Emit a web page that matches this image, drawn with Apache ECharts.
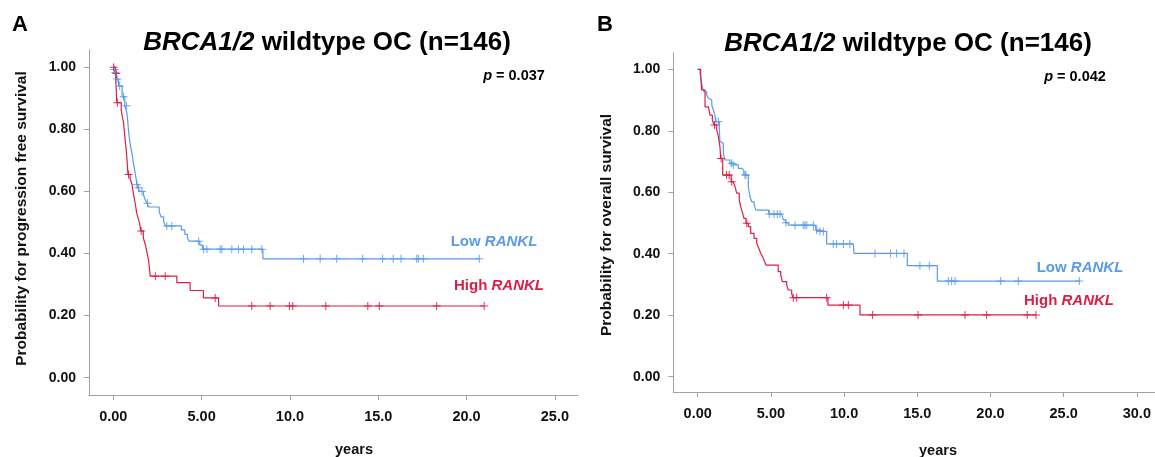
<!DOCTYPE html>
<html>
<head>
<meta charset="utf-8">
<script src="https://cdn.jsdelivr.net/npm/echarts@6/dist/echarts.min.js"></script>
<style>html,body{margin:0;padding:0;background:#fff}#c{width:1155px;height:457px}</style>
</head>
<body>
<div id="c"></div>
<script>
// ---------- DATA ----------
const yTickValues = [0, 0.2, 0.4, 0.6, 0.8, 1.0];
const yTickLabels = ['0.00', '0.20', '0.40', '0.60', '0.80', '1.00'];
const xTickValuesA = [0, 5, 10, 15, 20, 25];
const xTickLabelsA = ['0.00', '5.00', '10.0', '15.0', '20.0', '25.0'];
const xTickValuesB = [0, 5, 10, 15, 20, 25, 30];
const xTickLabelsB = ['0.00', '5.00', '10.0', '15.0', '20.0', '25.0', '30.0'];

// Panel A: progression free survival, [years, probability]
const lowPFS = [[0,1],[0.04,0.993],[0.1,0.983],[0.18,0.962],[0.3,0.94],[0.5,0.905],[0.65,0.876],[0.76,0.855],[0.8,0.838],[0.84,0.81],[0.88,0.785],[0.93,0.765],[0.97,0.748],[1.02,0.733],[1.07,0.718],[1.11,0.703],[1.15,0.688],[1.2,0.672],[1.25,0.655],[1.3,0.638],[1.33,0.622],[1.4,0.612],[1.5,0.6],[1.7,0.59],[1.8,0.575],[1.9,0.562],[2.0,0.55],[2.6,0.535],[2.7,0.518],[2.85,0.503],[2.95,0.489],[3.85,0.476],[4.05,0.462],[4.2,0.45],[4.28,0.44],[4.9,0.427],[5.05,0.414],[8.47,0.383],[20.72,0.383]];
const lowPFSCensored = [[0.06,0.993],[0.12,0.983],[0.22,0.962],[0.36,0.94],[0.58,0.905],[0.74,0.876],[1.34,0.622],[1.43,0.612],[1.62,0.6],[1.94,0.562],[3.03,0.489],[3.31,0.489],[4.83,0.44],[5.11,0.414],[5.3,0.414],[6.05,0.414],[6.15,0.414],[6.71,0.414],[7.09,0.414],[7.37,0.414],[7.84,0.414],[8.41,0.414],[10.77,0.383],[11.71,0.383],[12.65,0.383],[14.12,0.383],[15.25,0.383],[15.85,0.383],[16.29,0.383],[17.18,0.383],[17.27,0.383],[17.55,0.383],[20.72,0.383]];
const highPFS = [[0,1],[0.12,0.98],[0.2,0.886],[0.45,0.862],[0.5,0.844],[0.58,0.822],[0.63,0.79],[0.68,0.76],[0.74,0.73],[0.79,0.69],[0.83,0.655],[0.95,0.64],[1.06,0.623],[1.15,0.59],[1.25,0.558],[1.34,0.526],[1.45,0.505],[1.5,0.494],[1.55,0.473],[1.7,0.45],[1.81,0.43],[1.9,0.405],[2.0,0.376],[2.05,0.35],[2.09,0.327],[3.6,0.306],[4.35,0.281],[5.1,0.257],[5.96,0.231],[21.0,0.231]];
const highPFSCensored = [[0.02,1.0],[0.17,0.98],[0.23,0.886],[0.86,0.655],[1.58,0.473],[2.38,0.327],[2.94,0.327],[5.77,0.257],[7.84,0.231],[8.88,0.231],[9.97,0.231],[10.16,0.231],[12.03,0.231],[14.41,0.231],[15.06,0.231],[18.31,0.231],[21.0,0.231]];

// Panel B: overall survival, [years, probability]
const lowOS = [[0,1],[0.16,0.987],[0.27,0.954],[0.34,0.938],[0.43,0.927],[0.61,0.916],[0.73,0.906],[0.84,0.9],[0.96,0.884],[1.07,0.868],[1.18,0.851],[1.22,0.83],[1.48,0.803],[1.52,0.765],[1.64,0.759],[1.75,0.727],[1.86,0.705],[2.2,0.694],[2.38,0.689],[2.77,0.678],[3.0,0.672],[3.15,0.656],[3.46,0.618],[3.57,0.586],[3.69,0.569],[3.85,0.559],[3.98,0.542],[4.85,0.529],[5.74,0.526],[5.85,0.51],[6.0,0.501],[6.19,0.493],[8.01,0.488],[8.1,0.477],[8.25,0.472],[8.81,0.432],[10.63,0.428],[10.68,0.401],[14.32,0.361],[16.37,0.311],[26.07,0.311]];
const lowOSCensored = [[1.25,0.83],[1.41,0.83],[2.32,0.694],[2.43,0.689],[3.23,0.656],[3.3,0.656],[4.89,0.529],[5.21,0.529],[5.44,0.529],[5.62,0.529],[6.03,0.501],[6.65,0.493],[7.21,0.493],[7.33,0.493],[7.45,0.493],[7.9,0.493],[8.13,0.477],[8.35,0.472],[8.58,0.472],[9.26,0.432],[9.49,0.432],[9.95,0.432],[10.4,0.432],[12.11,0.401],[13.18,0.401],[13.59,0.401],[14.09,0.401],[15.18,0.361],[15.82,0.361],[17.12,0.311],[17.35,0.311],[17.58,0.311],[20.7,0.311],[21.9,0.311],[26.07,0.311]];
const highOS = [[0,1],[0.2,0.981],[0.27,0.933],[0.5,0.878],[0.73,0.873],[0.84,0.851],[1.0,0.835],[1.11,0.819],[1.3,0.803],[1.41,0.781],[1.52,0.748],[1.57,0.71],[1.71,0.656],[2.28,0.634],[2.43,0.629],[2.55,0.618],[2.66,0.597],[2.84,0.575],[2.94,0.553],[3.07,0.532],[3.16,0.515],[3.3,0.499],[3.46,0.488],[3.62,0.466],[3.85,0.45],[4.03,0.434],[4.15,0.42],[4.26,0.407],[4.37,0.396],[4.48,0.385],[4.57,0.374],[4.67,0.363],[5.5,0.342],[5.67,0.331],[5.78,0.309],[6.08,0.298],[6.19,0.282],[6.42,0.271],[6.5,0.257],[8.9,0.233],[11.09,0.201],[23.11,0.201]];
const highOSCensored = [[1.15,0.819],[1.6,0.71],[1.97,0.656],[2.15,0.656],[2.32,0.634],[3.35,0.499],[6.53,0.257],[6.76,0.257],[8.81,0.257],[9.95,0.233],[10.29,0.233],[11.95,0.201],[15.05,0.201],[18.26,0.201],[19.74,0.201],[22.51,0.201],[23.11,0.201]];

// ---------- STYLE ----------
const BLUE = '#5b9be6';
const RED = '#dc1e46';
const FONT = '"Liberation Sans", Arial, sans-serif';
const AXIS_GRAY = '#a0a0a0';
const CROSS = 'path://M3.5,0H4.5V3.5H8V4.5H4.5V8H3.5V4.5H0V3.5H3.5Z';

function xAxisCfg(gridIndex, min, max, vals, labels) {
  return {
    type: 'value', gridIndex, min, max,
    axisLine: { show: true, onZero: false, lineStyle: { color: AXIS_GRAY, width: 1 } },
    axisTick: { show: true, customValues: vals, length: 5, lineStyle: { color: AXIS_GRAY } },
    axisLabel: {
      customValues: vals, margin: 14,
      formatter: v => labels[vals.indexOf(v)] ?? '',
      color: '#111', fontWeight: 'bold', fontSize: 14.5, fontFamily: FONT
    },
    splitLine: { show: false }
  };
}
function yAxisCfg(gridIndex, min, max) {
  return {
    type: 'value', gridIndex, min, max,
    axisLine: { show: true, onZero: false, lineStyle: { color: AXIS_GRAY, width: 1 } },
    axisTick: { show: true, customValues: yTickValues, length: 5, lineStyle: { color: AXIS_GRAY } },
    axisLabel: {
      customValues: yTickValues, margin: 13,
      formatter: v => yTickLabels[yTickValues.indexOf(v)] ?? '',
      color: '#111', fontWeight: 'bold', fontSize: 14, fontFamily: FONT
    },
    splitLine: { show: false }
  };
}
function curve(data, color, gi) {
  return { type: 'line', step: 'end', data, xAxisIndex: gi, yAxisIndex: gi, showSymbol: false,
    lineStyle: { color, width: 1.2 }, itemStyle: { color }, silent: true, z: 2 };
}
function marks(data, color, gi) {
  return { type: 'scatter', data, xAxisIndex: gi, yAxisIndex: gi, symbol: CROSS, symbolSize: 8,
    itemStyle: { color, opacity: 0.9 }, silent: true, z: 3 };
}
function txt(x, y, text, size, color, rich, rot) {
  const r = {};
  if (rich) r.i = { fontStyle: 'italic', fontWeight: 'bold', fontSize: size, fontFamily: FONT, fill: color };
  return { type: 'text', x, y, rotation: rot || 0, silent: true,
    style: { text, rich: r, fill: color, fontSize: size, fontWeight: 'bold', fontFamily: FONT,
      align: 'center', verticalAlign: 'middle' } };
}

const chart = echarts.init(document.getElementById('c'), null, { renderer: 'canvas' });
chart.setOption({
  animation: false,
  backgroundColor: '#fff',
  grid: [
    { left: 89, top: 50, width: 489, height: 345 },
    { left: 673.3, top: 52.7, right: 0, height: 339.3 }
  ],
  xAxis: [
    xAxisCfg(0, -1.376, 26.31, xTickValuesA, xTickLabelsA),
    xAxisCfg(1, -1.667, 31.24, xTickValuesB, xTickLabelsB)
  ],
  yAxis: [
    yAxisCfg(0, -0.0557, 1.0557),
    yAxisCfg(1, -0.0498, 1.054)
  ],
  series: [
    curve(lowPFS, BLUE, 0), marks(lowPFSCensored, BLUE, 0),
    curve(highPFS, RED, 0), marks(highPFSCensored, RED, 0),
    curve(lowOS, BLUE, 1), marks(lowOSCensored, BLUE, 1),
    curve(highOS, RED, 1), marks(highOSCensored, RED, 1)
  ],
  graphic: [
    txt(20, 25, 'A', 22, '#000'),
    txt(605, 25, 'B', 22, '#000'),
    txt(327, 43, '{i|BRCA1/2} wildtype OC (n=146)', 26, '#000', true),
    txt(908, 44, '{i|BRCA1/2} wildtype OC (n=146)', 26, '#000', true),
    txt(514, 76, '{i|p} = 0.037', 14.5, '#000', true),
    txt(1075, 77, '{i|p} = 0.042', 14.5, '#000', true),
    txt(494, 242, 'Low {i|RANKL}', 15, BLUE, true),
    txt(499, 286, 'High {i|RANKL}', 15, RED, true),
    txt(1080, 268, 'Low {i|RANKL}', 15, BLUE, true),
    txt(1069, 301, 'High {i|RANKL}', 15, RED, true),
    txt(21.7, 218.5, 'Probability for progression free survival', 15.5, '#111', false, Math.PI / 2),
    txt(606.7, 225, 'Probability for overall survival', 15.5, '#111', false, Math.PI / 2),
    txt(354, 450, 'years', 14.5, '#111'),
    txt(938, 450.5, 'years', 14.5, '#111')
  ]
});
</script>
</body>
</html>
